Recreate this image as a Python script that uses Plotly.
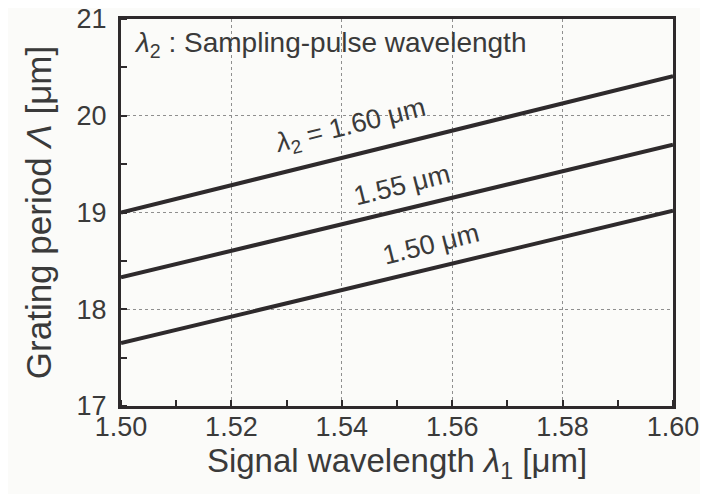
import plotly.graph_objects as go

signal_wl = [1.50, 1.60]
period_160 = [19.00, 20.41]
period_155 = [18.33, 19.70]
period_150 = [17.65, 19.02]
series = [("<i>λ</i><sub>2</sub> = 1.60 μm", period_160),
          ("1.55 μm", period_155),
          ("1.50 μm", period_150)]
label_pos = [(1.5415, 19.88), (1.5509, 19.28), (1.5562, 18.67)]

x_ticks = [1.50, 1.52, 1.54, 1.56, 1.58, 1.60]
x_tick_text = ["1.50", "1.52", "1.54", "1.56", "1.58", "1.60"]
y_ticks = [17, 18, 19, 20, 21]

FONT = "Liberation Sans, Arial, Helvetica, sans-serif"
INK = "#2e2a2c"
TXT = "#3a3a3a"

fig = go.Figure()
for name, ys in series:
    fig.add_trace(go.Scatter(x=signal_wl, y=ys, mode="lines",
                             line=dict(color=INK, width=4), showlegend=False,
                             hoverinfo="skip"))

for (name, _), (lx, ly) in zip(series, label_pos):
    fig.add_annotation(x=lx, y=ly, xref="x", yref="y", text=name,
                       showarrow=False, textangle=-14,
                       font=dict(family=FONT, size=27, color=TXT))

fig.add_annotation(x=0.02, y=0.935, xref="paper", yref="paper",
                   xanchor="left", yanchor="middle",
                   text="<i>λ</i><sub>2</sub> : Sampling-pulse wavelength",
                   showarrow=False, font=dict(family=FONT, size=28, color=TXT))

grid = dict(showgrid=True, gridcolor="#8f8f8f", griddash="dot", gridwidth=1)
fig.update_xaxes(range=[1.50, 1.60], tickvals=x_ticks, ticktext=x_tick_text,
                 showline=True, linecolor=INK, linewidth=3, mirror=True,
                 ticks="", zeroline=False, ticklabelstandoff=-5,
                 ticklabeloverflow="allow", automargin=False,
                 minor=dict(ticks="inside", dtick=0.01, ticklen=6,
                            tickcolor=INK, tickwidth=1.5, showgrid=False),
                 title=dict(text="Signal wavelength <i>λ</i><sub>1</sub> [μm]",
                            font=dict(family=FONT, size=33, color=TXT), standoff=2),
                 tickfont=dict(family=FONT, size=27, color=TXT), **grid)
fig.update_yaxes(range=[17, 21], tickvals=y_ticks,
                 showline=True, linecolor=INK, linewidth=3, mirror=True,
                 ticks="", zeroline=False, ticklabelstandoff=6,
                 ticklabeloverflow="allow", automargin=False,
                 minor=dict(ticks="inside", dtick=0.5, ticklen=6,
                            tickcolor=INK, tickwidth=1.5, showgrid=False),
                 title=dict(text="Grating period <i>Λ</i> [μm]",
                            font=dict(family=FONT, size=35, color=TXT), standoff=15),
                 tickfont=dict(family=FONT, size=27, color=TXT), **grid)

fig.update_layout(width=700, height=486,
                  margin=dict(l=113, r=35, t=11, b=88),
                  paper_bgcolor="#fbfbf9", plot_bgcolor="#fbfbf9",
                  showlegend=False)

fig.write_html("out.html")
